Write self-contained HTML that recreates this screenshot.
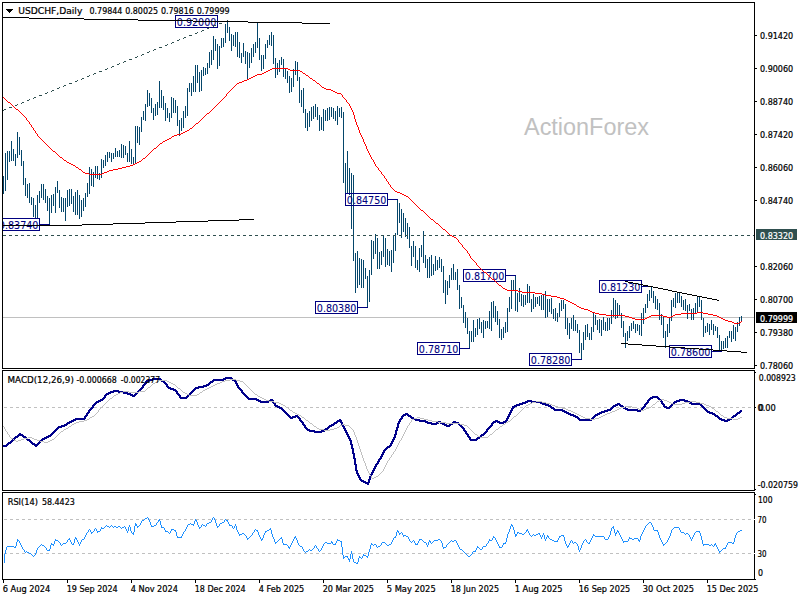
<!DOCTYPE html>
<html><head><meta charset="utf-8"><title>USDCHF Daily</title>
<style>html,body{margin:0;padding:0;background:#fff}svg{display:block}text{font-family:"DejaVu Sans Condensed","DejaVu Sans","Liberation Sans",sans-serif;font-size:9.5px;stroke-width:.22px}</style></head>
<body>
<svg width="800" height="600" viewBox="0 0 800 600">
<rect width="800" height="600" fill="#fff"/>
<defs><clipPath id="cm"><rect x="3" y="3" width="751" height="365"/></clipPath></defs>
<g shape-rendering="crispEdges" fill="none">
<path d="M3 317.5H754" stroke="#c0c0c0"/>
<path d="M3 176h1V194h-1zM5 153h1V191h-1zM7 151h1V180h-1zM9 151h1V162h-1zM11 141h1V161h-1zM13 149h1V161h-1zM15 154h1V166h-1zM17 132h1V158h-1zM19 137h1V155h-1zM21 150h1V166h-1zM23 161h1V185h-1zM25 178h1V196h-1zM27 184h1V198h-1zM29 183h1V203h-1zM31 197h1V205h-1zM33 198h1V217h-1zM35 205h1V218h-1zM37 195h1V218h-1zM39 191h1V203h-1zM41 184h1V198h-1zM43 184h1V200h-1zM45 189h1V203h-1zM47 196h1V211h-1zM49 198h1V224h-1zM51 195h1V213h-1zM53 194h1V206h-1zM55 187h1V213h-1zM57 181h1V193h-1zM59 190h1V208h-1zM61 197h1V212h-1zM63 198h1V212h-1zM65 198h1V221h-1zM67 190h1V207h-1zM69 189h1V206h-1zM71 189h1V204h-1zM73 196h1V212h-1zM75 192h1V215h-1zM77 190h1V215h-1zM79 195h1V219h-1zM81 200h1V217h-1zM83 198h1V211h-1zM85 193h1V207h-1zM87 183h1V197h-1zM89 167h1V194h-1zM91 169h1V186h-1zM93 172h1V187h-1zM95 166h1V178h-1zM97 166h1V179h-1zM99 173h1V180h-1zM101 159h1V178h-1zM103 160h1V168h-1zM105 155h1V166h-1zM107 152h1V162h-1zM109 152h1V158h-1zM111 153h1V162h-1zM113 153h1V159h-1zM115 148h1V157h-1zM117 151h1V157h-1zM119 150h1V157h-1zM121 144h1V158h-1zM123 145h1V158h-1zM125 146h1V155h-1zM127 153h1V162h-1zM129 141h1V162h-1zM131 149h1V164h-1zM133 157h1V165h-1zM135 126h1V164h-1zM137 126h1V143h-1zM139 127h1V145h-1zM141 117h1V132h-1zM143 111h1V120h-1zM145 104h1V121h-1zM147 90h1V107h-1zM149 93h1V106h-1zM151 98h1V113h-1zM153 108h1V120h-1zM155 104h1V116h-1zM157 102h1V115h-1zM159 81h1V108h-1zM161 90h1V108h-1zM163 96h1V110h-1zM165 103h1V121h-1zM167 108h1V118h-1zM169 113h1V122h-1zM171 97h1V118h-1zM173 98h1V113h-1zM175 100h1V113h-1zM177 106h1V126h-1zM179 120h1V136h-1zM181 118h1V131h-1zM183 111h1V128h-1zM185 106h1V118h-1zM187 88h1V116h-1zM189 83h1V92h-1zM191 83h1V96h-1zM193 76h1V92h-1zM195 65h1V92h-1zM197 65h1V83h-1zM199 72h1V92h-1zM201 70h1V91h-1zM203 67h1V76h-1zM205 68h1V75h-1zM207 63h1V74h-1zM209 52h1V68h-1zM211 50h1V65h-1zM213 36h1V60h-1zM215 39h1V51h-1zM217 44h1V69h-1zM219 46h1V66h-1zM221 38h1V48h-1zM223 38h1V47h-1zM225 24h1V43h-1zM227 20h1V33h-1zM229 27h1V41h-1zM231 34h1V51h-1zM233 35h1V46h-1zM235 32h1V47h-1zM237 32h1V57h-1zM239 42h1V58h-1zM241 53h1V63h-1zM243 43h1V57h-1zM245 51h1V64h-1zM247 52h1V80h-1zM249 53h1V68h-1zM251 48h1V63h-1zM253 44h1V57h-1zM255 42h1V53h-1zM257 22h1V48h-1zM259 38h1V60h-1zM261 55h1V71h-1zM263 55h1V69h-1zM265 44h1V59h-1zM267 40h1V48h-1zM269 35h1V45h-1zM271 32h1V46h-1zM273 35h1V64h-1zM275 58h1V78h-1zM277 63h1V75h-1zM279 60h1V72h-1zM281 57h1V65h-1zM283 59h1V77h-1zM285 68h1V79h-1zM287 71h1V83h-1zM289 76h1V93h-1zM291 78h1V92h-1zM293 69h1V87h-1zM295 61h1V75h-1zM297 62h1V81h-1zM299 77h1V103h-1zM301 90h1V107h-1zM303 88h1V113h-1zM305 109h1V128h-1zM307 113h1V131h-1zM309 111h1V127h-1zM311 107h1V121h-1zM313 106h1V119h-1zM315 104h1V117h-1zM317 107h1V120h-1zM319 115h1V131h-1zM321 117h1V130h-1zM323 109h1V131h-1zM325 110h1V121h-1zM327 108h1V121h-1zM329 107h1V120h-1zM331 107h1V117h-1zM333 108h1V119h-1zM335 111h1V121h-1zM337 106h1V125h-1zM339 108h1V117h-1zM341 107h1V118h-1zM343 112h1V183h-1zM345 163h1V194h-1zM347 151h1V194h-1zM349 168h1V195h-1zM351 173h1V229h-1zM353 175h1V261h-1zM355 253h1V293h-1zM357 251h1V288h-1zM359 258h1V285h-1zM361 259h1V288h-1zM363 260h1V288h-1zM365 268h1V279h-1zM367 276h1V308h-1zM369 270h1V302h-1zM371 240h1V275h-1zM373 241h1V259h-1zM375 234h1V254h-1zM377 238h1V269h-1zM379 252h1V269h-1zM381 251h1V265h-1zM383 235h1V257h-1zM385 238h1V267h-1zM387 249h1V265h-1zM389 251h1V266h-1zM391 250h1V272h-1zM393 236h1V263h-1zM395 233h1V251h-1zM397 199h1V235h-1zM399 203h1V223h-1zM401 209h1V238h-1zM403 213h1V232h-1zM405 218h1V237h-1zM407 223h1V239h-1zM409 227h1V248h-1zM411 246h1V266h-1zM413 241h1V257h-1zM415 246h1V268h-1zM417 260h1V270h-1zM419 248h1V272h-1zM421 245h1V257h-1zM423 231h1V263h-1zM425 255h1V268h-1zM427 259h1V278h-1zM429 257h1V278h-1zM431 255h1V276h-1zM433 264h1V275h-1zM435 256h1V271h-1zM437 260h1V270h-1zM439 257h1V268h-1zM441 259h1V272h-1zM443 266h1V293h-1zM445 280h1V304h-1zM447 281h1V295h-1zM449 275h1V288h-1zM451 268h1V280h-1zM453 264h1V280h-1zM455 272h1V280h-1zM457 269h1V290h-1zM459 285h1V309h-1zM461 297h1V308h-1zM463 305h1V323h-1zM465 312h1V328h-1zM467 318h1V334h-1zM469 331h1V348h-1zM471 331h1V342h-1zM473 320h1V342h-1zM475 328h1V337h-1zM477 319h1V335h-1zM479 318h1V329h-1zM481 322h1V333h-1zM483 320h1V338h-1zM485 321h1V329h-1zM487 321h1V328h-1zM489 311h1V329h-1zM491 302h1V331h-1zM493 301h1V318h-1zM495 306h1V322h-1zM497 311h1V325h-1zM499 319h1V338h-1zM501 329h1V340h-1zM503 327h1V338h-1zM505 322h1V333h-1zM507 308h1V332h-1zM509 297h1V312h-1zM511 280h1V309h-1zM513 280h1V291h-1zM515 275h1V311h-1zM517 293h1V312h-1zM519 288h1V302h-1zM521 294h1V306h-1zM523 295h1V307h-1zM525 295h1V305h-1zM527 284h1V303h-1zM529 286h1V303h-1zM531 299h1V312h-1zM533 294h1V309h-1zM535 297h1V307h-1zM537 297h1V304h-1zM539 296h1V306h-1zM541 295h1V310h-1zM543 294h1V310h-1zM545 291h1V318h-1zM547 299h1V317h-1zM549 299h1V312h-1zM551 298h1V314h-1zM553 309h1V319h-1zM555 308h1V321h-1zM557 313h1V322h-1zM559 303h1V317h-1zM561 300h1V311h-1zM563 300h1V309h-1zM565 304h1V329h-1zM567 318h1V335h-1zM569 323h1V339h-1zM571 318h1V329h-1zM573 315h1V331h-1zM575 320h1V331h-1zM577 324h1V333h-1zM579 330h1V353h-1zM581 343h1V359h-1zM583 332h1V350h-1zM585 325h1V340h-1zM587 324h1V337h-1zM589 333h1V340h-1zM591 327h1V340h-1zM593 313h1V332h-1zM595 315h1V325h-1zM597 320h1V330h-1zM599 319h1V333h-1zM601 320h1V336h-1zM603 317h1V330h-1zM605 322h1V331h-1zM607 318h1V331h-1zM609 318h1V330h-1zM611 310h1V324h-1zM613 298h1V317h-1zM615 300h1V319h-1zM617 303h1V318h-1zM619 305h1V315h-1zM621 313h1V328h-1zM623 321h1V337h-1zM625 333h1V348h-1zM627 331h1V341h-1zM629 326h1V338h-1zM631 323h1V331h-1zM633 321h1V329h-1zM635 324h1V333h-1zM637 324h1V331h-1zM639 325h1V335h-1zM641 313h1V336h-1zM643 308h1V324h-1zM645 304h1V313h-1zM647 294h1V308h-1zM649 290h1V301h-1zM651 286h1V298h-1zM653 291h1V303h-1zM655 296h1V309h-1zM657 299h1V310h-1zM659 303h1V320h-1zM661 314h1V325h-1zM663 317h1V338h-1zM665 331h1V348h-1zM667 324h1V337h-1zM669 318h1V333h-1zM671 300h1V321h-1zM673 298h1V307h-1zM675 293h1V308h-1zM677 293h1V303h-1zM679 293h1V303h-1zM681 296h1V307h-1zM683 300h1V310h-1zM685 299h1V311h-1zM687 305h1V319h-1zM689 304h1V311h-1zM691 309h1V320h-1zM693 308h1V320h-1zM695 303h1V313h-1zM697 296h1V312h-1zM699 296h1V307h-1zM701 300h1V320h-1zM703 318h1V337h-1zM705 326h1V333h-1zM707 323h1V332h-1zM709 324h1V335h-1zM711 320h1V330h-1zM713 324h1V335h-1zM715 326h1V331h-1zM717 327h1V338h-1zM719 335h1V350h-1zM721 341h1V351h-1zM723 341h1V349h-1zM725 338h1V348h-1zM727 336h1V348h-1zM729 331h1V338h-1zM731 331h1V342h-1zM733 325h1V339h-1zM735 327h1V341h-1zM737 322h1V332h-1zM739 317h1V326h-1zM741 316h1V322h-1z" fill="#05466b" stroke="none"/>
<path d="M3 235.5H754" stroke="#2f4f4f" stroke-dasharray="3 3"/>
<g clip-path="url(#cm)">
<rect x="175.5" y="15.5" width="42" height="12" stroke="#000080"/>
<rect x="-2.5" y="218.5" width="42" height="12" stroke="#000080"/>
<path d="M39.5 224.5H49.5" stroke="#000080"/>
<rect x="345.5" y="193.5" width="42" height="12" stroke="#000080"/>
<path d="M387.5 199.5H397.5" stroke="#000080"/>
<rect x="315.5" y="301.5" width="42" height="12" stroke="#000080"/>
<path d="M357.5 307.5H367.5" stroke="#000080"/>
<rect x="463.5" y="269.5" width="42" height="12" stroke="#000080"/>
<path d="M505.5 275.5H515.5" stroke="#000080"/>
<rect x="417.5" y="342.5" width="42" height="12" stroke="#000080"/>
<path d="M459.5 348.5H469.5" stroke="#000080"/>
<rect x="529.5" y="353.5" width="42" height="12" stroke="#000080"/>
<path d="M571.5 359.5H581.5" stroke="#000080"/>
<rect x="599.5" y="280.5" width="42" height="12" stroke="#000080"/>
<path d="M641.5 286.5H651.5" stroke="#000080"/>
<rect x="669.5" y="345.5" width="42" height="12" stroke="#000080"/>
<path d="M711.5 351.5H721.5" stroke="#000080"/>
<text x="176.8" y="26.0" textLength="39.6" lengthAdjust="spacingAndGlyphs" fill="#000080" stroke="#000080" shape-rendering="auto" style="font-size:11px;stroke-width:.08px">0.92000</text>
<text x="-1.2" y="229.0" textLength="39.6" lengthAdjust="spacingAndGlyphs" fill="#000080" stroke="#000080" shape-rendering="auto" style="font-size:11px;stroke-width:.08px">0.83740</text>
<text x="346.8" y="204.0" textLength="39.6" lengthAdjust="spacingAndGlyphs" fill="#000080" stroke="#000080" shape-rendering="auto" style="font-size:11px;stroke-width:.08px">0.84750</text>
<text x="316.8" y="312.0" textLength="39.6" lengthAdjust="spacingAndGlyphs" fill="#000080" stroke="#000080" shape-rendering="auto" style="font-size:11px;stroke-width:.08px">0.80380</text>
<text x="464.8" y="280.0" textLength="39.6" lengthAdjust="spacingAndGlyphs" fill="#000080" stroke="#000080" shape-rendering="auto" style="font-size:11px;stroke-width:.08px">0.81700</text>
<text x="418.8" y="353.0" textLength="39.6" lengthAdjust="spacingAndGlyphs" fill="#000080" stroke="#000080" shape-rendering="auto" style="font-size:11px;stroke-width:.08px">0.78710</text>
<text x="530.8" y="364.0" textLength="39.6" lengthAdjust="spacingAndGlyphs" fill="#000080" stroke="#000080" shape-rendering="auto" style="font-size:11px;stroke-width:.08px">0.78280</text>
<text x="600.8" y="291.0" textLength="39.6" lengthAdjust="spacingAndGlyphs" fill="#000080" stroke="#000080" shape-rendering="auto" style="font-size:11px;stroke-width:.08px">0.81230</text>
<text x="670.8" y="356.0" textLength="39.6" lengthAdjust="spacingAndGlyphs" fill="#000080" stroke="#000080" shape-rendering="auto" style="font-size:11px;stroke-width:.08px">0.78600</text>
</g>
<path d="M227 20h1v1h-1zM225 21h2v1h-2zM219 23h3v1h-3zM214 25h2v1h-2zM213 26h1v1h-1zM209 27h1v1h-1zM207 28h2v1h-2zM202 30h2v1h-2zM201 31h1v1h-1zM197 32h1v1h-1zM195 33h2v1h-2zM189 35h3v1h-3zM184 37h2v1h-2zM183 38h1v1h-1zM179 39h1v1h-1zM177 40h2v1h-2zM172 42h2v1h-2zM171 43h1v1h-1zM167 44h1v1h-1zM165 45h2v1h-2zM159 47h3v1h-3zM154 49h2v1h-2zM153 50h1v1h-1zM149 51h1v1h-1zM147 52h2v1h-2zM142 54h2v1h-2zM141 55h1v1h-1zM137 56h1v1h-1zM135 57h2v1h-2zM129 59h3v1h-3zM124 61h2v1h-2zM123 62h1v1h-1zM119 63h1v1h-1zM117 64h2v1h-2zM112 66h2v1h-2zM111 67h1v1h-1zM107 68h1v1h-1zM105 69h2v1h-2zM99 71h3v1h-3zM94 73h2v1h-2zM93 74h1v1h-1zM89 75h1v1h-1zM87 76h2v1h-2zM82 78h2v1h-2zM81 79h1v1h-1zM77 80h1v1h-1zM75 81h2v1h-2zM69 83h3v1h-3zM64 85h2v1h-2zM63 86h1v1h-1zM59 87h1v1h-1zM57 88h2v1h-2zM52 90h2v1h-2zM51 91h1v1h-1zM47 92h1v1h-1zM45 93h2v1h-2zM39 95h3v1h-3zM34 97h2v1h-2zM33 98h1v1h-1zM29 99h1v1h-1zM27 100h2v1h-2zM22 102h2v1h-2zM21 103h1v1h-1zM17 104h1v1h-1zM15 105h2v1h-2zM9 107h3v1h-3zM4 109h2v1h-2zM3 110h1v1h-1z" fill="#2f4f4f" stroke="none"/>
<path d="M272 68h16v1h-16zM270 69h2v1h-2zM288 69h2v1h-2zM268 70h2v1h-2zM290 70h10v1h-10zM266 71h2v1h-2zM300 71h2v1h-2zM264 72h2v1h-2zM302 72h1v1h-1zM262 73h2v1h-2zM303 73h2v1h-2zM257 74h5v1h-5zM305 74h1v1h-1zM255 75h2v1h-2zM306 75h2v1h-2zM253 76h2v1h-2zM308 76h1v1h-1zM251 77h2v1h-2zM309 77h1v1h-1zM249 78h2v1h-2zM310 78h2v1h-2zM247 79h2v1h-2zM312 79h1v1h-1zM244 80h3v1h-3zM313 80h2v1h-2zM242 81h2v1h-2zM315 81h1v1h-1zM239 82h3v1h-3zM316 82h1v1h-1zM237 83h2v1h-2zM317 83h2v1h-2zM236 84h1v1h-1zM319 84h1v1h-1zM235 85h1v1h-1zM320 85h1v1h-1zM234 86h1v1h-1zM321 86h1v1h-1zM233 87h1v1h-1zM322 87h2v1h-2zM232 88h1v1h-1zM324 88h2v1h-2zM231 89h1v1h-1zM326 89h5v1h-5zM230 90h1v1h-1zM331 90h2v1h-2zM229 91h1v1h-1zM333 91h2v1h-2zM228 92h1v1h-1zM335 92h2v1h-2zM227 93h1v1h-1zM337 93h4v1h-4zM226 94h1v1h-1zM341 94h1v1h-1zM226 95h1v1h-1zM342 95h1v1h-1zM225 96h1v1h-1zM342 96h1v1h-1zM3 97h1v1h-1zM224 97h1v1h-1zM343 97h1v1h-1zM4 98h1v1h-1zM223 98h1v1h-1zM344 98h1v1h-1zM5 99h1v1h-1zM222 99h1v1h-1zM345 99h1v1h-1zM6 100h1v1h-1zM221 100h1v1h-1zM346 100h1v1h-1zM7 101h1v1h-1zM220 101h1v1h-1zM346 101h1v1h-1zM8 102h2v1h-2zM219 102h1v1h-1zM347 102h1v1h-1zM10 103h1v1h-1zM218 103h1v1h-1zM348 103h1v1h-1zM11 104h1v1h-1zM217 104h1v1h-1zM349 104h1v1h-1zM12 105h1v1h-1zM216 105h1v1h-1zM349 105h1v1h-1zM13 106h1v1h-1zM215 106h1v1h-1zM350 106h1v1h-1zM14 107h1v1h-1zM214 107h1v1h-1zM350 107h1v1h-1zM15 108h1v1h-1zM213 108h1v1h-1zM351 108h1v1h-1zM16 109h2v1h-2zM212 109h1v1h-1zM351 109h1v1h-1zM18 110h1v1h-1zM211 110h1v1h-1zM352 110h1v1h-1zM19 111h1v1h-1zM210 111h1v1h-1zM352 111h1v1h-1zM20 112h1v1h-1zM209 112h1v1h-1zM353 112h1v1h-1zM21 113h1v1h-1zM207 113h2v1h-2zM353 113h1v1h-1zM22 114h1v1h-1zM206 114h1v1h-1zM353 114h1v1h-1zM23 115h1v1h-1zM205 115h1v1h-1zM354 115h1v1h-1zM24 116h1v1h-1zM204 116h1v1h-1zM354 116h1v1h-1zM25 117h1v1h-1zM203 117h1v1h-1zM354 117h1v1h-1zM26 118h1v1h-1zM202 118h1v1h-1zM354 118h1v1h-1zM26 119h1v1h-1zM201 119h1v1h-1zM355 119h1v1h-1zM27 120h1v1h-1zM200 120h1v1h-1zM355 120h1v1h-1zM28 121h1v1h-1zM199 121h1v1h-1zM355 121h1v1h-1zM29 122h1v1h-1zM198 122h1v1h-1zM356 122h1v1h-1zM29 123h1v1h-1zM196 123h2v1h-2zM356 123h1v1h-1zM30 124h1v1h-1zM195 124h1v1h-1zM356 124h1v1h-1zM31 125h1v1h-1zM194 125h1v1h-1zM357 125h1v1h-1zM31 126h1v1h-1zM193 126h1v1h-1zM357 126h1v1h-1zM32 127h1v1h-1zM192 127h1v1h-1zM358 127h1v1h-1zM33 128h1v1h-1zM190 128h2v1h-2zM358 128h1v1h-1zM33 129h1v1h-1zM189 129h1v1h-1zM358 129h1v1h-1zM34 130h1v1h-1zM187 130h2v1h-2zM359 130h1v1h-1zM35 131h1v1h-1zM185 131h2v1h-2zM359 131h1v1h-1zM35 132h1v1h-1zM183 132h2v1h-2zM359 132h1v1h-1zM36 133h1v1h-1zM181 133h2v1h-2zM360 133h1v1h-1zM37 134h1v1h-1zM177 134h4v1h-4zM360 134h1v1h-1zM37 135h1v1h-1zM174 135h3v1h-3zM361 135h1v1h-1zM38 136h1v1h-1zM172 136h2v1h-2zM361 136h1v1h-1zM39 137h1v1h-1zM171 137h1v1h-1zM362 137h1v1h-1zM40 138h1v1h-1zM169 138h2v1h-2zM362 138h1v1h-1zM41 139h1v1h-1zM167 139h2v1h-2zM363 139h1v1h-1zM42 140h1v1h-1zM165 140h2v1h-2zM363 140h1v1h-1zM43 141h1v1h-1zM163 141h2v1h-2zM363 141h1v1h-1zM44 142h1v1h-1zM162 142h1v1h-1zM364 142h1v1h-1zM45 143h1v1h-1zM160 143h2v1h-2zM364 143h1v1h-1zM46 144h1v1h-1zM159 144h1v1h-1zM365 144h1v1h-1zM47 145h1v1h-1zM158 145h1v1h-1zM365 145h1v1h-1zM48 146h1v1h-1zM157 146h1v1h-1zM366 146h1v1h-1zM49 147h1v1h-1zM156 147h1v1h-1zM366 147h1v1h-1zM50 148h1v1h-1zM154 148h2v1h-2zM366 148h1v1h-1zM51 149h1v1h-1zM153 149h1v1h-1zM367 149h1v1h-1zM52 150h1v1h-1zM152 150h1v1h-1zM367 150h1v1h-1zM53 151h2v1h-2zM151 151h1v1h-1zM368 151h1v1h-1zM55 152h1v1h-1zM150 152h1v1h-1zM368 152h1v1h-1zM56 153h1v1h-1zM149 153h1v1h-1zM369 153h1v1h-1zM57 154h1v1h-1zM148 154h1v1h-1zM369 154h1v1h-1zM58 155h1v1h-1zM147 155h1v1h-1zM370 155h1v1h-1zM59 156h1v1h-1zM146 156h1v1h-1zM370 156h1v1h-1zM60 157h2v1h-2zM145 157h1v1h-1zM371 157h1v1h-1zM62 158h1v1h-1zM143 158h2v1h-2zM371 158h1v1h-1zM63 159h1v1h-1zM142 159h1v1h-1zM372 159h1v1h-1zM64 160h2v1h-2zM141 160h1v1h-1zM373 160h1v1h-1zM66 161h1v1h-1zM139 161h2v1h-2zM373 161h1v1h-1zM67 162h2v1h-2zM137 162h2v1h-2zM374 162h1v1h-1zM69 163h2v1h-2zM135 163h2v1h-2zM374 163h1v1h-1zM71 164h2v1h-2zM133 164h2v1h-2zM375 164h1v1h-1zM73 165h2v1h-2zM130 165h3v1h-3zM375 165h1v1h-1zM75 166h1v1h-1zM126 166h4v1h-4zM376 166h1v1h-1zM76 167h2v1h-2zM122 167h4v1h-4zM377 167h1v1h-1zM78 168h1v1h-1zM118 168h4v1h-4zM378 168h1v1h-1zM79 169h2v1h-2zM113 169h5v1h-5zM378 169h1v1h-1zM81 170h1v1h-1zM109 170h4v1h-4zM379 170h1v1h-1zM82 171h1v1h-1zM107 171h2v1h-2zM380 171h1v1h-1zM83 172h2v1h-2zM104 172h3v1h-3zM381 172h1v1h-1zM85 173h4v1h-4zM102 173h2v1h-2zM381 173h1v1h-1zM89 174h13v1h-13zM382 174h1v1h-1zM383 175h1v1h-1zM384 176h1v1h-1zM384 177h1v1h-1zM385 178h1v1h-1zM386 179h1v1h-1zM386 180h1v1h-1zM387 181h1v1h-1zM388 182h1v1h-1zM388 183h1v1h-1zM389 184h1v1h-1zM390 185h1v1h-1zM390 186h1v1h-1zM391 187h1v1h-1zM392 188h1v1h-1zM393 189h1v1h-1zM394 190h1v1h-1zM395 191h2v1h-2zM397 192h3v1h-3zM400 193h2v1h-2zM402 194h2v1h-2zM404 195h2v1h-2zM406 196h2v1h-2zM408 197h1v1h-1zM409 198h1v1h-1zM410 199h1v1h-1zM411 200h1v1h-1zM412 201h1v1h-1zM413 202h1v1h-1zM414 203h1v1h-1zM415 204h1v1h-1zM416 205h1v1h-1zM417 206h1v1h-1zM418 207h1v1h-1zM419 208h1v1h-1zM420 209h1v1h-1zM421 210h2v1h-2zM423 211h1v1h-1zM424 212h1v1h-1zM425 213h1v1h-1zM426 214h1v1h-1zM427 215h1v1h-1zM428 216h1v1h-1zM429 217h1v1h-1zM430 218h1v1h-1zM431 219h2v1h-2zM433 220h1v1h-1zM434 221h1v1h-1zM435 222h1v1h-1zM436 223h2v1h-2zM438 224h1v1h-1zM439 225h1v1h-1zM440 226h1v1h-1zM441 227h1v1h-1zM442 228h1v1h-1zM443 229h2v1h-2zM445 230h1v1h-1zM446 231h1v1h-1zM447 232h1v1h-1zM448 233h1v1h-1zM449 234h1v1h-1zM450 235h2v1h-2zM452 236h2v1h-2zM454 237h2v1h-2zM456 238h1v1h-1zM457 239h1v1h-1zM458 240h1v1h-1zM458 241h1v1h-1zM459 242h1v1h-1zM460 243h1v1h-1zM461 244h1v1h-1zM462 245h1v1h-1zM462 246h1v1h-1zM463 247h1v1h-1zM464 248h1v1h-1zM465 249h1v1h-1zM466 250h1v1h-1zM467 251h1v1h-1zM467 252h1v1h-1zM468 253h1v1h-1zM469 254h1v1h-1zM469 255h1v1h-1zM470 256h1v1h-1zM470 257h1v1h-1zM471 258h1v1h-1zM472 259h1v1h-1zM473 260h1v1h-1zM474 261h1v1h-1zM475 262h1v1h-1zM476 263h1v1h-1zM476 264h1v1h-1zM477 265h1v1h-1zM478 266h1v1h-1zM479 267h1v1h-1zM480 268h1v1h-1zM481 269h1v1h-1zM482 270h1v1h-1zM483 271h1v1h-1zM484 272h2v1h-2zM486 273h1v1h-1zM487 274h1v1h-1zM488 275h1v1h-1zM489 276h1v1h-1zM490 277h1v1h-1zM491 278h1v1h-1zM492 279h2v1h-2zM494 280h1v1h-1zM495 281h1v1h-1zM496 282h1v1h-1zM497 283h1v1h-1zM498 284h1v1h-1zM499 285h2v1h-2zM501 286h1v1h-1zM502 287h1v1h-1zM503 288h2v1h-2zM505 289h2v1h-2zM507 290h11v1h-11zM518 291h4v1h-4zM522 292h13v1h-13zM535 293h7v1h-7zM542 294h3v1h-3zM545 295h6v1h-6zM551 296h6v1h-6zM557 297h3v1h-3zM560 298h4v1h-4zM564 299h2v1h-2zM566 300h2v1h-2zM568 301h2v1h-2zM570 302h2v1h-2zM572 303h2v1h-2zM574 304h2v1h-2zM576 305h1v1h-1zM577 306h2v1h-2zM579 307h2v1h-2zM581 308h3v1h-3zM584 309h4v1h-4zM588 310h2v1h-2zM590 311h2v1h-2zM592 312h3v1h-3zM697 312h6v1h-6zM595 313h4v1h-4zM681 313h16v1h-16zM703 313h5v1h-5zM599 314h7v1h-7zM675 314h6v1h-6zM708 314h5v1h-5zM606 315h19v1h-19zM651 315h12v1h-12zM673 315h2v1h-2zM713 315h4v1h-4zM625 316h4v1h-4zM649 316h2v1h-2zM663 316h4v1h-4zM671 316h2v1h-2zM717 316h2v1h-2zM629 317h3v1h-3zM647 317h2v1h-2zM667 317h4v1h-4zM719 317h2v1h-2zM632 318h3v1h-3zM645 318h2v1h-2zM721 318h2v1h-2zM635 319h10v1h-10zM723 319h2v1h-2zM725 320h3v1h-3zM728 321h4v1h-4zM741 321h1v1h-1zM732 322h2v1h-2zM739 322h2v1h-2zM734 323h5v1h-5z" fill="#ff0000" stroke="none"/>
<path d="M3 17h26v1h-26zM29 18h55v1h-55zM84 19h54v1h-54zM138 20h55v1h-55zM193 21h55v1h-55zM248 22h54v1h-54zM302 23h28v1h-28zM239 219h15v1h-15zM208 220h31v1h-31zM176 221h32v1h-32zM145 222h31v1h-31zM113 223h32v1h-32zM82 224h31v1h-31zM3 225h79v1h-79zM625 281h3v1h-3zM628 282h5v1h-5zM633 283h5v1h-5zM638 284h5v1h-5zM643 285h5v1h-5zM648 286h5v1h-5zM653 287h5v1h-5zM658 288h5v1h-5zM663 289h5v1h-5zM668 290h4v1h-4zM672 291h5v1h-5zM677 292h5v1h-5zM682 293h5v1h-5zM687 294h5v1h-5zM692 295h5v1h-5zM697 296h5v1h-5zM702 297h5v1h-5zM707 298h5v1h-5zM712 299h5v1h-5zM717 300h2v1h-2zM621 343h7v1h-7zM628 344h14v1h-14zM642 345h14v1h-14zM656 346h14v1h-14zM670 347h15v1h-15zM685 348h14v1h-14zM699 349h14v1h-14zM713 350h14v1h-14zM727 351h14v1h-14zM741 352h6v1h-6z" fill="#000" stroke="none"/>
<path d="M3 407.5H754" stroke="#c0c0c0" stroke-dasharray="3 3" stroke-dashoffset="5"/>
<path d="M225 377h7v1h-7zM152 378h9v1h-9zM223 378h10v1h-10zM148 379h14v1h-14zM213 379h13v1h-13zM231 379h4v1h-4zM146 380h7v1h-7zM160 380h4v1h-4zM212 380h12v1h-12zM232 380h4v1h-4zM145 381h4v1h-4zM161 381h4v1h-4zM210 381h4v1h-4zM234 381h3v1h-3zM145 382h2v1h-2zM163 382h3v1h-3zM209 382h4v1h-4zM235 382h2v1h-2zM144 383h3v1h-3zM164 383h3v1h-3zM208 383h3v1h-3zM235 383h3v1h-3zM143 384h3v1h-3zM165 384h3v1h-3zM206 384h4v1h-4zM236 384h2v1h-2zM142 385h3v1h-3zM166 385h2v1h-2zM203 385h6v1h-6zM236 385h3v1h-3zM142 386h2v1h-2zM166 386h3v1h-3zM198 386h9v1h-9zM237 386h2v1h-2zM141 387h3v1h-3zM167 387h4v1h-4zM195 387h9v1h-9zM237 387h3v1h-3zM140 388h3v1h-3zM168 388h6v1h-6zM194 388h5v1h-5zM238 388h3v1h-3zM139 389h3v1h-3zM170 389h6v1h-6zM193 389h3v1h-3zM239 389h3v1h-3zM113 390h6v1h-6zM138 390h3v1h-3zM173 390h4v1h-4zM192 390h3v1h-3zM240 390h3v1h-3zM110 391h14v1h-14zM137 391h3v1h-3zM175 391h3v1h-3zM191 391h3v1h-3zM241 391h2v1h-2zM108 392h6v1h-6zM118 392h10v1h-10zM136 392h3v1h-3zM176 392h2v1h-2zM190 392h3v1h-3zM241 392h3v1h-3zM106 393h5v1h-5zM123 393h8v1h-8zM135 393h3v1h-3zM176 393h3v1h-3zM189 393h3v1h-3zM242 393h3v1h-3zM105 394h4v1h-4zM127 394h6v1h-6zM134 394h3v1h-3zM177 394h3v1h-3zM188 394h3v1h-3zM243 394h3v1h-3zM104 395h3v1h-3zM130 395h6v1h-6zM178 395h3v1h-3zM187 395h3v1h-3zM244 395h3v1h-3zM104 396h2v1h-2zM132 396h3v1h-3zM179 396h2v1h-2zM186 396h3v1h-3zM245 396h3v1h-3zM652 396h6v1h-6zM103 397h3v1h-3zM179 397h9v1h-9zM246 397h3v1h-3zM650 397h9v1h-9zM102 398h3v1h-3zM180 398h7v1h-7zM247 398h10v1h-10zM649 398h4v1h-4zM657 398h3v1h-3zM100 399h4v1h-4zM248 399h11v1h-11zM270 399h3v1h-3zM648 399h3v1h-3zM658 399h3v1h-3zM679 399h6v1h-6zM98 400h5v1h-5zM256 400h5v1h-5zM268 400h6v1h-6zM527 400h5v1h-5zM647 400h3v1h-3zM659 400h3v1h-3zM676 400h12v1h-12zM96 401h5v1h-5zM258 401h13v1h-13zM272 401h2v1h-2zM525 401h16v1h-16zM647 401h2v1h-2zM660 401h3v1h-3zM674 401h6v1h-6zM684 401h6v1h-6zM95 402h4v1h-4zM260 402h9v1h-9zM272 402h3v1h-3zM522 402h6v1h-6zM531 402h12v1h-12zM646 402h3v1h-3zM661 402h2v1h-2zM673 402h4v1h-4zM687 402h5v1h-5zM94 403h3v1h-3zM273 403h3v1h-3zM519 403h7v1h-7zM540 403h6v1h-6zM617 403h3v1h-3zM645 403h3v1h-3zM661 403h3v1h-3zM672 403h3v1h-3zM689 403h12v1h-12zM93 404h3v1h-3zM274 404h2v1h-2zM516 404h7v1h-7zM542 404h7v1h-7zM615 404h6v1h-6zM644 404h3v1h-3zM662 404h3v1h-3zM671 404h3v1h-3zM691 404h11v1h-11zM92 405h3v1h-3zM274 405h4v1h-4zM514 405h6v1h-6zM545 405h6v1h-6zM613 405h5v1h-5zM619 405h4v1h-4zM644 405h2v1h-2zM663 405h2v1h-2zM670 405h3v1h-3zM700 405h3v1h-3zM92 406h2v1h-2zM275 406h5v1h-5zM512 406h5v1h-5zM548 406h4v1h-4zM612 406h4v1h-4zM620 406h4v1h-4zM643 406h3v1h-3zM663 406h4v1h-4zM669 406h3v1h-3zM701 406h3v1h-3zM91 407h3v1h-3zM277 407h5v1h-5zM512 407h3v1h-3zM550 407h4v1h-4zM611 407h3v1h-3zM622 407h4v1h-4zM642 407h3v1h-3zM664 407h7v1h-7zM702 407h3v1h-3zM90 408h3v1h-3zM279 408h4v1h-4zM511 408h3v1h-3zM551 408h4v1h-4zM610 408h3v1h-3zM623 408h5v1h-5zM641 408h3v1h-3zM666 408h4v1h-4zM703 408h3v1h-3zM89 409h3v1h-3zM281 409h3v1h-3zM511 409h2v1h-2zM553 409h10v1h-10zM607 409h5v1h-5zM625 409h13v1h-13zM640 409h3v1h-3zM704 409h3v1h-3zM88 410h3v1h-3zM282 410h3v1h-3zM510 410h3v1h-3zM554 410h11v1h-11zM604 410h7v1h-7zM627 410h15v1h-15zM705 410h3v1h-3zM740 410h2v1h-2zM88 411h2v1h-2zM283 411h3v1h-3zM510 411h2v1h-2zM562 411h5v1h-5zM601 411h7v1h-7zM637 411h4v1h-4zM706 411h4v1h-4zM739 411h3v1h-3zM87 412h3v1h-3zM284 412h3v1h-3zM509 412h3v1h-3zM564 412h5v1h-5zM599 412h6v1h-6zM707 412h6v1h-6zM737 412h4v1h-4zM86 413h3v1h-3zM285 413h3v1h-3zM405 413h3v1h-3zM509 413h2v1h-2zM566 413h5v1h-5zM597 413h5v1h-5zM709 413h6v1h-6zM736 413h4v1h-4zM86 414h2v1h-2zM286 414h3v1h-3zM403 414h6v1h-6zM508 414h3v1h-3zM568 414h6v1h-6zM595 414h5v1h-5zM712 414h4v1h-4zM735 414h3v1h-3zM85 415h3v1h-3zM287 415h3v1h-3zM295 415h3v1h-3zM402 415h4v1h-4zM407 415h4v1h-4zM508 415h2v1h-2zM570 415h6v1h-6zM594 415h4v1h-4zM714 415h4v1h-4zM733 415h4v1h-4zM84 416h3v1h-3zM288 416h3v1h-3zM292 416h7v1h-7zM401 416h3v1h-3zM408 416h4v1h-4zM507 416h3v1h-3zM573 416h5v1h-5zM593 416h3v1h-3zM715 416h4v1h-4zM732 416h4v1h-4zM84 417h2v1h-2zM289 417h7v1h-7zM297 417h3v1h-3zM401 417h2v1h-2zM410 417h4v1h-4zM507 417h2v1h-2zM575 417h4v1h-4zM592 417h3v1h-3zM717 417h3v1h-3zM731 417h3v1h-3zM75 418h11v1h-11zM290 418h3v1h-3zM298 418h3v1h-3zM400 418h3v1h-3zM411 418h5v1h-5zM506 418h3v1h-3zM577 418h3v1h-3zM591 418h3v1h-3zM718 418h4v1h-4zM729 418h4v1h-4zM73 419h12v1h-12zM299 419h2v1h-2zM339 419h2v1h-2zM399 419h3v1h-3zM413 419h7v1h-7zM506 419h2v1h-2zM578 419h15v1h-15zM719 419h6v1h-6zM727 419h5v1h-5zM71 420h5v1h-5zM299 420h3v1h-3zM337 420h5v1h-5zM399 420h2v1h-2zM415 420h11v1h-11zM495 420h3v1h-3zM505 420h3v1h-3zM579 420h13v1h-13zM721 420h9v1h-9zM69 421h5v1h-5zM300 421h3v1h-3zM336 421h6v1h-6zM398 421h3v1h-3zM419 421h9v1h-9zM438 421h3v1h-3zM453 421h3v1h-3zM493 421h7v1h-7zM503 421h4v1h-4zM724 421h4v1h-4zM67 422h5v1h-5zM301 422h3v1h-3zM334 422h4v1h-4zM340 422h3v1h-3zM398 422h2v1h-2zM425 422h7v1h-7zM436 422h7v1h-7zM452 422h7v1h-7zM492 422h4v1h-4zM497 422h10v1h-10zM66 423h4v1h-4zM302 423h2v1h-2zM333 423h4v1h-4zM341 423h2v1h-2zM397 423h3v1h-3zM427 423h12v1h-12zM440 423h5v1h-5zM450 423h4v1h-4zM455 423h5v1h-5zM491 423h3v1h-3zM499 423h5v1h-5zM64 424h4v1h-4zM302 424h3v1h-3zM331 424h4v1h-4zM341 424h3v1h-3zM397 424h2v1h-2zM431 424h6v1h-6zM442 424h5v1h-5zM449 424h4v1h-4zM458 424h3v1h-3zM491 424h2v1h-2zM61 425h6v1h-6zM303 425h3v1h-3zM329 425h5v1h-5zM342 425h2v1h-2zM397 425h2v1h-2zM444 425h7v1h-7zM459 425h3v1h-3zM490 425h3v1h-3zM58 426h7v1h-7zM304 426h2v1h-2zM328 426h4v1h-4zM342 426h3v1h-3zM397 426h2v1h-2zM446 426h4v1h-4zM460 426h3v1h-3zM489 426h3v1h-3zM57 427h5v1h-5zM304 427h3v1h-3zM327 427h3v1h-3zM343 427h2v1h-2zM396 427h3v1h-3zM461 427h3v1h-3zM488 427h3v1h-3zM56 428h3v1h-3zM305 428h3v1h-3zM325 428h4v1h-4zM343 428h3v1h-3zM396 428h2v1h-2zM462 428h3v1h-3zM487 428h3v1h-3zM55 429h3v1h-3zM306 429h4v1h-4zM324 429h4v1h-4zM344 429h2v1h-2zM396 429h2v1h-2zM463 429h2v1h-2zM486 429h3v1h-3zM54 430h3v1h-3zM307 430h8v1h-8zM321 430h5v1h-5zM344 430h3v1h-3zM395 430h3v1h-3zM463 430h3v1h-3zM486 430h2v1h-2zM53 431h3v1h-3zM309 431h16v1h-16zM345 431h2v1h-2zM395 431h2v1h-2zM464 431h3v1h-3zM485 431h3v1h-3zM52 432h3v1h-3zM314 432h8v1h-8zM345 432h3v1h-3zM395 432h2v1h-2zM465 432h2v1h-2zM484 432h3v1h-3zM19 433h2v1h-2zM51 433h3v1h-3zM346 433h2v1h-2zM395 433h2v1h-2zM465 433h3v1h-3zM483 433h3v1h-3zM18 434h5v1h-5zM50 434h3v1h-3zM346 434h3v1h-3zM394 434h3v1h-3zM466 434h3v1h-3zM481 434h4v1h-4zM17 435h7v1h-7zM48 435h4v1h-4zM347 435h2v1h-2zM394 435h2v1h-2zM467 435h2v1h-2zM480 435h4v1h-4zM15 436h4v1h-4zM22 436h4v1h-4zM46 436h5v1h-5zM347 436h3v1h-3zM394 436h2v1h-2zM467 436h3v1h-3zM479 436h3v1h-3zM14 437h4v1h-4zM23 437h4v1h-4zM44 437h5v1h-5zM348 437h2v1h-2zM393 437h3v1h-3zM468 437h3v1h-3zM477 437h4v1h-4zM13 438h3v1h-3zM25 438h3v1h-3zM42 438h5v1h-5zM348 438h3v1h-3zM393 438h2v1h-2zM469 438h2v1h-2zM476 438h4v1h-4zM12 439h3v1h-3zM26 439h4v1h-4zM41 439h4v1h-4zM349 439h2v1h-2zM392 439h3v1h-3zM469 439h9v1h-9zM11 440h3v1h-3zM27 440h4v1h-4zM40 440h3v1h-3zM349 440h3v1h-3zM392 440h2v1h-2zM470 440h7v1h-7zM10 441h3v1h-3zM29 441h3v1h-3zM39 441h3v1h-3zM350 441h2v1h-2zM391 441h3v1h-3zM8 442h4v1h-4zM30 442h3v1h-3zM38 442h3v1h-3zM350 442h2v1h-2zM391 442h2v1h-2zM7 443h4v1h-4zM31 443h4v1h-4zM37 443h3v1h-3zM350 443h2v1h-2zM390 443h3v1h-3zM6 444h3v1h-3zM32 444h7v1h-7zM350 444h3v1h-3zM390 444h2v1h-2zM2 445h6v1h-6zM34 445h4v1h-4zM351 445h2v1h-2zM389 445h3v1h-3zM2 446h5v1h-5zM35 446h2v1h-2zM351 446h2v1h-2zM387 446h4v1h-4zM351 447h2v1h-2zM386 447h4v1h-4zM351 448h3v1h-3zM385 448h3v1h-3zM352 449h2v1h-2zM384 449h3v1h-3zM352 450h2v1h-2zM383 450h3v1h-3zM352 451h2v1h-2zM383 451h2v1h-2zM352 452h2v1h-2zM382 452h3v1h-3zM352 453h3v1h-3zM382 453h2v1h-2zM353 454h2v1h-2zM381 454h3v1h-3zM353 455h2v1h-2zM381 455h2v1h-2zM353 456h2v1h-2zM380 456h3v1h-3zM353 457h2v1h-2zM380 457h2v1h-2zM353 458h3v1h-3zM379 458h3v1h-3zM354 459h2v1h-2zM378 459h3v1h-3zM354 460h2v1h-2zM378 460h2v1h-2zM354 461h2v1h-2zM377 461h3v1h-3zM354 462h2v1h-2zM377 462h2v1h-2zM354 463h2v1h-2zM376 463h3v1h-3zM354 464h3v1h-3zM375 464h3v1h-3zM355 465h2v1h-2zM375 465h2v1h-2zM355 466h2v1h-2zM374 466h3v1h-3zM355 467h2v1h-2zM374 467h2v1h-2zM355 468h2v1h-2zM373 468h3v1h-3zM355 469h2v1h-2zM373 469h2v1h-2zM355 470h3v1h-3zM372 470h3v1h-3zM356 471h2v1h-2zM372 471h2v1h-2zM356 472h2v1h-2zM371 472h3v1h-3zM356 473h3v1h-3zM371 473h2v1h-2zM357 474h2v1h-2zM370 474h3v1h-3zM357 475h3v1h-3zM370 475h2v1h-2zM358 476h2v1h-2zM369 476h3v1h-3zM358 477h3v1h-3zM369 477h2v1h-2zM359 478h2v1h-2zM369 478h2v1h-2zM359 479h3v1h-3zM368 479h3v1h-3zM360 480h4v1h-4zM368 480h2v1h-2zM361 481h5v1h-5zM368 481h2v1h-2zM363 482h7v1h-7zM365 483h4v1h-4zM367 484h2v1h-2z" fill="#00008b" stroke="none"/>
<path d="M230 379h6v1h-6zM159 380h8v1h-8zM225 380h5v1h-5zM236 380h4v1h-4zM157 381h2v1h-2zM167 381h2v1h-2zM222 381h3v1h-3zM240 381h3v1h-3zM155 382h2v1h-2zM169 382h2v1h-2zM220 382h2v1h-2zM243 382h1v1h-1zM153 383h2v1h-2zM171 383h2v1h-2zM217 383h3v1h-3zM244 383h1v1h-1zM152 384h1v1h-1zM173 384h2v1h-2zM215 384h2v1h-2zM245 384h1v1h-1zM151 385h1v1h-1zM175 385h1v1h-1zM213 385h2v1h-2zM246 385h1v1h-1zM150 386h1v1h-1zM176 386h1v1h-1zM211 386h2v1h-2zM247 386h1v1h-1zM148 387h2v1h-2zM177 387h1v1h-1zM209 387h2v1h-2zM248 387h1v1h-1zM147 388h1v1h-1zM178 388h2v1h-2zM207 388h2v1h-2zM249 388h1v1h-1zM146 389h1v1h-1zM180 389h1v1h-1zM205 389h2v1h-2zM250 389h1v1h-1zM145 390h1v1h-1zM181 390h1v1h-1zM203 390h2v1h-2zM251 390h1v1h-1zM123 391h6v1h-6zM139 391h6v1h-6zM182 391h1v1h-1zM202 391h1v1h-1zM252 391h1v1h-1zM120 392h3v1h-3zM129 392h10v1h-10zM183 392h2v1h-2zM200 392h2v1h-2zM253 392h1v1h-1zM118 393h2v1h-2zM185 393h2v1h-2zM199 393h1v1h-1zM254 393h1v1h-1zM116 394h2v1h-2zM187 394h2v1h-2zM197 394h2v1h-2zM255 394h2v1h-2zM114 395h2v1h-2zM189 395h8v1h-8zM257 395h1v1h-1zM113 396h1v1h-1zM258 396h2v1h-2zM112 397h1v1h-1zM260 397h2v1h-2zM110 398h2v1h-2zM262 398h2v1h-2zM109 399h1v1h-1zM264 399h2v1h-2zM661 399h3v1h-3zM108 400h1v1h-1zM266 400h3v1h-3zM659 400h2v1h-2zM664 400h3v1h-3zM107 401h1v1h-1zM269 401h5v1h-5zM536 401h6v1h-6zM657 401h2v1h-2zM667 401h2v1h-2zM690 401h6v1h-6zM106 402h1v1h-1zM274 402h5v1h-5zM532 402h4v1h-4zM542 402h4v1h-4zM656 402h1v1h-1zM669 402h2v1h-2zM685 402h5v1h-5zM696 402h4v1h-4zM105 403h1v1h-1zM279 403h2v1h-2zM530 403h2v1h-2zM546 403h4v1h-4zM655 403h1v1h-1zM671 403h2v1h-2zM682 403h3v1h-3zM700 403h4v1h-4zM104 404h1v1h-1zM281 404h2v1h-2zM528 404h2v1h-2zM550 404h2v1h-2zM653 404h2v1h-2zM673 404h9v1h-9zM704 404h2v1h-2zM103 405h1v1h-1zM283 405h2v1h-2zM526 405h2v1h-2zM552 405h3v1h-3zM652 405h1v1h-1zM706 405h3v1h-3zM102 406h1v1h-1zM285 406h1v1h-1zM525 406h1v1h-1zM555 406h3v1h-3zM625 406h7v1h-7zM651 406h1v1h-1zM709 406h2v1h-2zM101 407h1v1h-1zM286 407h2v1h-2zM524 407h1v1h-1zM558 407h4v1h-4zM621 407h4v1h-4zM632 407h5v1h-5zM649 407h2v1h-2zM711 407h1v1h-1zM100 408h1v1h-1zM288 408h1v1h-1zM523 408h1v1h-1zM562 408h4v1h-4zM619 408h2v1h-2zM637 408h2v1h-2zM646 408h3v1h-3zM712 408h2v1h-2zM99 409h1v1h-1zM289 409h1v1h-1zM522 409h1v1h-1zM566 409h2v1h-2zM617 409h2v1h-2zM639 409h2v1h-2zM644 409h2v1h-2zM714 409h1v1h-1zM98 410h1v1h-1zM290 410h2v1h-2zM521 410h1v1h-1zM568 410h3v1h-3zM615 410h2v1h-2zM641 410h3v1h-3zM715 410h1v1h-1zM98 411h1v1h-1zM292 411h1v1h-1zM520 411h1v1h-1zM571 411h2v1h-2zM612 411h3v1h-3zM716 411h2v1h-2zM97 412h1v1h-1zM293 412h2v1h-2zM519 412h1v1h-1zM573 412h2v1h-2zM610 412h2v1h-2zM718 412h1v1h-1zM96 413h1v1h-1zM295 413h2v1h-2zM518 413h1v1h-1zM575 413h2v1h-2zM607 413h3v1h-3zM719 413h1v1h-1zM95 414h1v1h-1zM297 414h2v1h-2zM517 414h1v1h-1zM577 414h2v1h-2zM605 414h2v1h-2zM720 414h1v1h-1zM94 415h1v1h-1zM299 415h2v1h-2zM516 415h1v1h-1zM579 415h2v1h-2zM603 415h2v1h-2zM721 415h2v1h-2zM92 416h2v1h-2zM301 416h1v1h-1zM514 416h2v1h-2zM581 416h2v1h-2zM601 416h2v1h-2zM723 416h1v1h-1zM90 417h2v1h-2zM302 417h2v1h-2zM417 417h3v1h-3zM513 417h1v1h-1zM583 417h2v1h-2zM599 417h2v1h-2zM724 417h3v1h-3zM740 417h2v1h-2zM89 418h1v1h-1zM304 418h1v1h-1zM414 418h3v1h-3zM420 418h4v1h-4zM512 418h1v1h-1zM585 418h5v1h-5zM595 418h4v1h-4zM727 418h6v1h-6zM738 418h2v1h-2zM87 419h2v1h-2zM305 419h1v1h-1zM412 419h2v1h-2zM424 419h4v1h-4zM511 419h1v1h-1zM590 419h5v1h-5zM733 419h5v1h-5zM84 420h3v1h-3zM306 420h2v1h-2zM411 420h1v1h-1zM428 420h4v1h-4zM510 420h1v1h-1zM79 421h5v1h-5zM308 421h1v1h-1zM411 421h1v1h-1zM432 421h6v1h-6zM508 421h2v1h-2zM76 422h3v1h-3zM309 422h1v1h-1zM410 422h1v1h-1zM438 422h8v1h-8zM506 422h2v1h-2zM74 423h2v1h-2zM310 423h2v1h-2zM409 423h1v1h-1zM446 423h14v1h-14zM505 423h1v1h-1zM72 424h2v1h-2zM312 424h1v1h-1zM342 424h3v1h-3zM409 424h1v1h-1zM460 424h4v1h-4zM503 424h2v1h-2zM71 425h1v1h-1zM313 425h1v1h-1zM340 425h2v1h-2zM345 425h4v1h-4zM408 425h1v1h-1zM464 425h3v1h-3zM502 425h1v1h-1zM3 426h1v1h-1zM69 426h2v1h-2zM314 426h2v1h-2zM339 426h1v1h-1zM349 426h1v1h-1zM407 426h1v1h-1zM467 426h1v1h-1zM500 426h2v1h-2zM4 427h1v1h-1zM68 427h1v1h-1zM316 427h1v1h-1zM337 427h2v1h-2zM350 427h1v1h-1zM407 427h1v1h-1zM468 427h1v1h-1zM499 427h1v1h-1zM4 428h1v1h-1zM66 428h2v1h-2zM317 428h2v1h-2zM334 428h3v1h-3zM351 428h1v1h-1zM406 428h1v1h-1zM469 428h1v1h-1zM498 428h1v1h-1zM5 429h1v1h-1zM64 429h2v1h-2zM319 429h5v1h-5zM330 429h4v1h-4zM352 429h1v1h-1zM406 429h1v1h-1zM470 429h1v1h-1zM496 429h2v1h-2zM5 430h1v1h-1zM63 430h1v1h-1zM324 430h6v1h-6zM353 430h1v1h-1zM405 430h1v1h-1zM471 430h1v1h-1zM495 430h1v1h-1zM6 431h1v1h-1zM61 431h2v1h-2zM353 431h1v1h-1zM405 431h1v1h-1zM472 431h1v1h-1zM494 431h1v1h-1zM7 432h1v1h-1zM60 432h1v1h-1zM354 432h1v1h-1zM404 432h1v1h-1zM473 432h1v1h-1zM493 432h1v1h-1zM7 433h1v1h-1zM59 433h1v1h-1zM354 433h1v1h-1zM404 433h1v1h-1zM474 433h1v1h-1zM492 433h1v1h-1zM8 434h1v1h-1zM58 434h1v1h-1zM354 434h1v1h-1zM403 434h1v1h-1zM475 434h2v1h-2zM490 434h2v1h-2zM9 435h1v1h-1zM57 435h1v1h-1zM355 435h1v1h-1zM403 435h1v1h-1zM477 435h1v1h-1zM489 435h1v1h-1zM9 436h1v1h-1zM56 436h1v1h-1zM355 436h1v1h-1zM402 436h1v1h-1zM478 436h2v1h-2zM488 436h1v1h-1zM10 437h1v1h-1zM28 437h4v1h-4zM55 437h1v1h-1zM356 437h1v1h-1zM402 437h1v1h-1zM480 437h8v1h-8zM11 438h2v1h-2zM24 438h4v1h-4zM32 438h2v1h-2zM54 438h1v1h-1zM356 438h1v1h-1zM401 438h1v1h-1zM13 439h1v1h-1zM21 439h3v1h-3zM34 439h3v1h-3zM52 439h2v1h-2zM356 439h1v1h-1zM401 439h1v1h-1zM14 440h2v1h-2zM18 440h3v1h-3zM37 440h3v1h-3zM50 440h2v1h-2zM357 440h1v1h-1zM400 440h1v1h-1zM16 441h2v1h-2zM40 441h4v1h-4zM48 441h2v1h-2zM357 441h1v1h-1zM399 441h1v1h-1zM44 442h4v1h-4zM357 442h1v1h-1zM399 442h1v1h-1zM358 443h1v1h-1zM398 443h1v1h-1zM358 444h1v1h-1zM398 444h1v1h-1zM358 445h1v1h-1zM397 445h1v1h-1zM359 446h1v1h-1zM397 446h1v1h-1zM359 447h1v1h-1zM396 447h1v1h-1zM359 448h1v1h-1zM396 448h1v1h-1zM360 449h1v1h-1zM395 449h1v1h-1zM360 450h1v1h-1zM395 450h1v1h-1zM360 451h1v1h-1zM394 451h1v1h-1zM361 452h1v1h-1zM393 452h1v1h-1zM361 453h1v1h-1zM393 453h1v1h-1zM361 454h1v1h-1zM392 454h1v1h-1zM362 455h1v1h-1zM391 455h1v1h-1zM362 456h1v1h-1zM391 456h1v1h-1zM362 457h1v1h-1zM390 457h1v1h-1zM363 458h1v1h-1zM389 458h1v1h-1zM363 459h1v1h-1zM389 459h1v1h-1zM363 460h1v1h-1zM388 460h1v1h-1zM364 461h1v1h-1zM387 461h1v1h-1zM364 462h1v1h-1zM387 462h1v1h-1zM365 463h1v1h-1zM386 463h1v1h-1zM365 464h1v1h-1zM386 464h1v1h-1zM365 465h1v1h-1zM385 465h1v1h-1zM366 466h1v1h-1zM385 466h1v1h-1zM366 467h1v1h-1zM384 467h1v1h-1zM366 468h1v1h-1zM384 468h1v1h-1zM367 469h1v1h-1zM383 469h1v1h-1zM367 470h1v1h-1zM383 470h1v1h-1zM368 471h1v1h-1zM382 471h1v1h-1zM368 472h1v1h-1zM381 472h1v1h-1zM369 473h1v1h-1zM380 473h1v1h-1zM369 474h1v1h-1zM379 474h1v1h-1zM370 475h1v1h-1zM378 475h1v1h-1zM371 476h1v1h-1zM376 476h2v1h-2zM371 477h1v1h-1zM374 477h2v1h-2zM372 478h2v1h-2z" fill="#c0c0c0" stroke="none"/>
<path d="M3 519.5H754M3 553.5H754" stroke="#c0c0c0" stroke-dasharray="3 3" stroke-dashoffset="5"/>
<path d="M4 554h1v9h-1zM5 550h1v4h-1zM6 547h1v3h-1zM7 546h1v1h-1zM8 546h1v1h-1zM9 546h1v1h-1zM10 546h1v1h-1zM11 546h1v1h-1zM12 546h1v1h-1zM13 546h1v1h-1zM14 547h1v1h-1zM15 546h1v2h-1zM16 542h1v4h-1zM17 539h1v3h-1zM18 540h1v1h-1zM19 541h1v2h-1zM20 543h1v2h-1zM21 545h1v2h-1zM22 547h1v2h-1zM23 549h1v1h-1zM24 550h1v2h-1zM25 552h1v1h-1zM26 551h1v1h-1zM27 552h1v1h-1zM28 552h1v1h-1zM29 553h1v1h-1zM30 553h1v1h-1zM31 554h1v1h-1zM32 555h1v1h-1zM33 556h1v1h-1zM34 555h1v1h-1zM35 553h1v2h-1zM36 550h1v3h-1zM37 548h1v2h-1zM38 547h1v1h-1zM39 546h1v1h-1zM40 545h1v1h-1zM41 544h1v1h-1zM42 545h1v1h-1zM43 545h1v1h-1zM44 546h1v1h-1zM45 547h1v1h-1zM46 548h1v2h-1zM47 550h1v1h-1zM48 550h1v1h-1zM49 549h1v2h-1zM50 545h1v4h-1zM51 543h1v2h-1zM52 544h1v1h-1zM53 544h1v2h-1zM54 541h1v3h-1zM55 539h1v2h-1zM56 540h1v1h-1zM57 540h1v1h-1zM58 541h1v1h-1zM59 542h1v1h-1zM60 543h1v2h-1zM61 545h1v1h-1zM62 544h1v1h-1zM63 543h1v1h-1zM64 543h1v1h-1zM65 543h1v1h-1zM66 542h1v1h-1zM67 540h1v2h-1zM68 539h1v1h-1zM69 538h1v2h-1zM70 540h1v2h-1zM71 542h1v2h-1zM72 544h1v1h-1zM73 543h1v2h-1zM74 539h1v4h-1zM75 537h1v2h-1zM76 538h1v2h-1zM77 540h1v2h-1zM78 542h1v2h-1zM79 544h1v2h-1zM80 542h1v2h-1zM81 540h1v2h-1zM82 539h1v1h-1zM83 539h1v1h-1zM84 537h1v2h-1zM85 535h1v2h-1zM86 533h1v2h-1zM87 532h1v1h-1zM88 530h1v2h-1zM89 529h1v1h-1zM90 530h1v2h-1zM91 532h1v2h-1zM92 532h1v1h-1zM93 531h1v1h-1zM94 529h1v2h-1zM95 528h1v1h-1zM96 529h1v2h-1zM97 531h1v2h-1zM98 531h1v1h-1zM99 531h1v1h-1zM100 529h1v2h-1zM101 527h1v2h-1zM102 528h1v1h-1zM103 528h1v1h-1zM104 527h1v1h-1zM105 526h1v1h-1zM106 525h1v1h-1zM107 526h1v1h-1zM108 526h1v1h-1zM109 527h1v1h-1zM110 526h1v1h-1zM111 525h1v1h-1zM112 526h1v1h-1zM113 527h1v1h-1zM114 526h1v1h-1zM115 526h1v1h-1zM116 527h1v1h-1zM117 527h1v1h-1zM118 526h1v1h-1zM119 526h1v1h-1zM120 527h1v1h-1zM121 528h1v1h-1zM122 527h1v1h-1zM123 527h1v1h-1zM124 526h1v1h-1zM125 527h1v2h-1zM126 529h1v2h-1zM127 531h1v2h-1zM128 527h1v4h-1zM129 525h1v2h-1zM130 527h1v4h-1zM131 531h1v2h-1zM132 533h1v1h-1zM133 532h1v3h-1zM134 526h1v6h-1zM135 523h1v3h-1zM136 524h1v2h-1zM137 526h1v2h-1zM138 526h1v1h-1zM139 525h1v1h-1zM140 523h1v2h-1zM141 521h1v2h-1zM142 520h1v1h-1zM143 520h1v1h-1zM144 519h1v1h-1zM145 518h1v1h-1zM146 518h1v1h-1zM147 517h1v1h-1zM148 518h1v2h-1zM149 520h1v2h-1zM150 522h1v3h-1zM151 525h1v2h-1zM152 526h1v1h-1zM153 526h1v1h-1zM154 525h1v1h-1zM155 525h1v1h-1zM156 523h1v2h-1zM157 522h1v1h-1zM158 520h1v2h-1zM159 519h1v2h-1zM160 521h1v4h-1zM161 525h1v3h-1zM162 527h1v1h-1zM163 527h1v1h-1zM164 528h1v2h-1zM165 530h1v2h-1zM166 531h1v1h-1zM167 531h1v1h-1zM168 532h1v1h-1zM169 533h1v1h-1zM170 531h1v2h-1zM171 529h1v2h-1zM172 529h1v1h-1zM173 529h1v1h-1zM174 530h1v1h-1zM175 530h1v2h-1zM176 532h1v4h-1zM177 536h1v2h-1zM178 537h1v1h-1zM179 537h1v1h-1zM180 537h1v1h-1zM181 536h1v2h-1zM182 534h1v2h-1zM183 532h1v2h-1zM184 531h1v1h-1zM185 529h1v2h-1zM186 527h1v2h-1zM187 525h1v2h-1zM188 524h1v1h-1zM189 524h1v1h-1zM190 523h1v1h-1zM191 524h1v1h-1zM192 524h1v1h-1zM193 524h1v2h-1zM194 521h1v3h-1zM195 519h1v2h-1zM196 520h1v2h-1zM197 522h1v3h-1zM198 525h1v2h-1zM199 527h1v2h-1zM200 527h1v1h-1zM201 525h1v2h-1zM202 524h1v1h-1zM203 525h1v1h-1zM204 525h1v1h-1zM205 526h1v1h-1zM206 524h1v2h-1zM207 523h1v1h-1zM208 523h1v1h-1zM209 522h1v1h-1zM210 522h1v1h-1zM211 520h1v2h-1zM212 518h1v2h-1zM213 517h1v1h-1zM214 518h1v2h-1zM215 520h1v3h-1zM216 523h1v3h-1zM217 526h1v2h-1zM218 526h1v1h-1zM219 524h1v2h-1zM220 523h1v1h-1zM221 523h1v1h-1zM222 522h1v1h-1zM223 522h1v1h-1zM224 520h1v2h-1zM225 519h1v1h-1zM226 520h1v1h-1zM227 520h1v2h-1zM228 522h1v2h-1zM229 524h1v2h-1zM230 525h1v1h-1zM231 525h1v1h-1zM232 526h1v2h-1zM233 528h1v1h-1zM234 526h1v2h-1zM235 524h1v2h-1zM236 526h1v4h-1zM237 530h1v2h-1zM238 532h1v2h-1zM239 534h1v2h-1zM240 534h1v1h-1zM241 534h1v1h-1zM242 533h1v1h-1zM243 533h1v1h-1zM244 534h1v1h-1zM245 535h1v1h-1zM246 536h1v2h-1zM247 538h1v2h-1zM248 538h1v1h-1zM249 537h1v1h-1zM250 536h1v1h-1zM251 535h1v1h-1zM252 533h1v2h-1zM253 532h1v1h-1zM254 530h1v2h-1zM255 529h1v1h-1zM256 530h1v1h-1zM257 530h1v2h-1zM258 532h1v3h-1zM259 535h1v2h-1zM260 537h1v2h-1zM261 539h1v2h-1zM262 538h1v2h-1zM263 535h1v3h-1zM264 533h1v2h-1zM265 531h1v2h-1zM266 531h1v1h-1zM267 530h1v1h-1zM268 530h1v1h-1zM269 529h1v1h-1zM270 528h1v2h-1zM271 530h1v4h-1zM272 534h1v3h-1zM273 537h1v2h-1zM274 539h1v3h-1zM275 542h1v2h-1zM276 542h1v1h-1zM277 541h1v1h-1zM278 540h1v1h-1zM279 539h1v1h-1zM280 538h1v1h-1zM281 537h1v2h-1zM282 539h1v4h-1zM283 543h1v2h-1zM284 544h1v1h-1zM285 544h1v1h-1zM286 544h1v1h-1zM287 545h1v1h-1zM288 546h1v2h-1zM289 547h1v2h-1zM290 545h1v2h-1zM291 543h1v2h-1zM292 541h1v2h-1zM293 539h1v2h-1zM294 537h1v2h-1zM295 536h1v2h-1zM296 538h1v2h-1zM297 540h1v3h-1zM298 543h1v2h-1zM299 545h1v1h-1zM300 546h1v1h-1zM301 546h1v1h-1zM302 547h1v2h-1zM303 549h1v2h-1zM304 551h1v1h-1zM305 552h1v1h-1zM306 551h1v1h-1zM307 551h1v1h-1zM308 550h1v1h-1zM309 549h1v1h-1zM310 550h1v1h-1zM311 550h1v1h-1zM312 549h1v1h-1zM313 548h1v1h-1zM314 546h1v2h-1zM315 545h1v1h-1zM316 546h1v2h-1zM317 548h1v1h-1zM318 549h1v2h-1zM319 551h1v1h-1zM320 550h1v1h-1zM321 548h1v2h-1zM322 546h1v2h-1zM323 544h1v2h-1zM324 543h1v1h-1zM325 542h1v1h-1zM326 542h1v1h-1zM327 543h1v1h-1zM328 543h1v1h-1zM329 543h1v1h-1zM330 543h1v1h-1zM331 541h1v2h-1zM332 542h1v2h-1zM333 544h1v1h-1zM334 544h1v1h-1zM335 543h1v2h-1zM336 541h1v2h-1zM337 539h1v2h-1zM338 540h1v1h-1zM339 540h1v1h-1zM340 541h1v1h-1zM341 541h1v6h-1zM342 547h1v8h-1zM343 555h1v4h-1zM344 557h1v1h-1zM345 556h1v1h-1zM346 556h1v1h-1zM347 556h1v2h-1zM348 558h1v2h-1zM349 559h1v3h-1zM350 554h1v5h-1zM351 551h1v3h-1zM352 554h1v5h-1zM353 559h1v3h-1zM354 562h1v1h-1zM355 562h1v1h-1zM356 563h1v1h-1zM357 562h1v2h-1zM358 558h1v4h-1zM359 556h1v2h-1zM360 557h1v1h-1zM361 558h1v1h-1zM362 556h1v2h-1zM363 554h1v2h-1zM364 555h1v1h-1zM365 555h1v1h-1zM366 556h1v1h-1zM367 556h1v2h-1zM368 552h1v4h-1zM369 549h1v3h-1zM370 545h1v4h-1zM371 543h1v2h-1zM372 544h1v1h-1zM373 545h1v1h-1zM374 544h1v1h-1zM375 544h1v1h-1zM376 545h1v2h-1zM377 547h1v1h-1zM378 546h1v1h-1zM379 546h1v1h-1zM380 545h1v1h-1zM381 543h1v2h-1zM382 542h1v1h-1zM383 542h1v1h-1zM384 542h1v1h-1zM385 543h1v1h-1zM386 544h1v1h-1zM387 545h1v1h-1zM388 545h1v1h-1zM389 544h1v1h-1zM390 544h1v1h-1zM391 542h1v2h-1zM392 540h1v2h-1zM393 538h1v2h-1zM394 537h1v1h-1zM395 536h1v2h-1zM396 532h1v4h-1zM397 530h1v2h-1zM398 531h1v2h-1zM399 533h1v2h-1zM400 533h1v1h-1zM401 532h1v1h-1zM402 533h1v2h-1zM403 535h1v2h-1zM404 535h1v1h-1zM405 535h1v1h-1zM406 536h1v1h-1zM407 536h1v1h-1zM408 537h1v2h-1zM409 539h1v2h-1zM410 541h1v1h-1zM411 542h1v1h-1zM412 541h1v1h-1zM413 540h1v1h-1zM414 541h1v2h-1zM415 543h1v2h-1zM416 544h1v1h-1zM417 543h1v2h-1zM418 541h1v2h-1zM419 539h1v2h-1zM420 539h1v1h-1zM421 539h1v1h-1zM422 540h1v1h-1zM423 541h1v1h-1zM424 542h1v1h-1zM425 542h1v1h-1zM426 543h1v2h-1zM427 545h1v2h-1zM428 542h1v3h-1zM429 540h1v2h-1zM430 541h1v2h-1zM431 543h1v1h-1zM432 542h1v1h-1zM433 541h1v1h-1zM434 540h1v1h-1zM435 540h1v1h-1zM436 540h1v1h-1zM437 540h1v1h-1zM438 539h1v1h-1zM439 539h1v1h-1zM440 540h1v1h-1zM441 541h1v2h-1zM442 543h1v4h-1zM443 547h1v2h-1zM444 547h1v1h-1zM445 547h1v1h-1zM446 545h1v2h-1zM447 544h1v1h-1zM448 543h1v1h-1zM449 542h1v1h-1zM450 541h1v1h-1zM451 540h1v1h-1zM452 541h1v1h-1zM453 541h1v1h-1zM454 540h1v1h-1zM455 540h1v1h-1zM456 541h1v2h-1zM457 543h1v2h-1zM458 545h1v2h-1zM459 547h1v2h-1zM460 549h1v1h-1zM461 549h1v1h-1zM462 550h1v1h-1zM463 551h1v1h-1zM464 552h1v1h-1zM465 553h1v1h-1zM466 554h1v1h-1zM467 555h1v1h-1zM468 556h1v1h-1zM469 556h1v1h-1zM470 555h1v1h-1zM471 554h1v1h-1zM472 552h1v2h-1zM473 551h1v1h-1zM474 551h1v1h-1zM475 550h1v2h-1zM476 548h1v2h-1zM477 546h1v2h-1zM478 547h1v1h-1zM479 548h1v1h-1zM480 549h1v1h-1zM481 549h1v1h-1zM482 547h1v2h-1zM483 546h1v1h-1zM484 546h1v1h-1zM485 546h1v1h-1zM486 544h1v2h-1zM487 543h1v1h-1zM488 541h1v2h-1zM489 539h1v2h-1zM490 540h1v1h-1zM491 540h1v1h-1zM492 538h1v2h-1zM493 536h1v2h-1zM494 537h1v1h-1zM495 538h1v2h-1zM496 540h1v2h-1zM497 542h1v2h-1zM498 544h1v2h-1zM499 546h1v2h-1zM500 547h1v1h-1zM501 547h1v1h-1zM502 545h1v2h-1zM503 543h1v2h-1zM504 543h1v1h-1zM505 542h1v2h-1zM506 538h1v4h-1zM507 534h1v4h-1zM508 532h1v2h-1zM509 529h1v3h-1zM510 526h1v3h-1zM511 524h1v2h-1zM512 525h1v2h-1zM513 527h1v3h-1zM514 530h1v4h-1zM515 534h1v3h-1zM516 534h1v2h-1zM517 532h1v2h-1zM518 532h1v1h-1zM519 533h1v1h-1zM520 533h1v1h-1zM521 533h1v1h-1zM522 534h1v1h-1zM523 534h1v1h-1zM524 533h1v1h-1zM525 532h1v1h-1zM526 530h1v2h-1zM527 529h1v2h-1zM528 531h1v2h-1zM529 533h1v2h-1zM530 535h1v1h-1zM531 536h1v1h-1zM532 535h1v1h-1zM533 534h1v1h-1zM534 535h1v1h-1zM535 535h1v1h-1zM536 534h1v1h-1zM537 534h1v1h-1zM538 533h1v1h-1zM539 533h1v2h-1zM540 535h1v2h-1zM541 537h1v2h-1zM542 535h1v2h-1zM543 533h1v2h-1zM544 535h1v4h-1zM545 539h1v2h-1zM546 537h1v2h-1zM547 535h1v2h-1zM548 536h1v2h-1zM549 538h1v1h-1zM550 539h1v1h-1zM551 539h1v1h-1zM552 540h1v1h-1zM553 540h1v1h-1zM554 541h1v1h-1zM555 541h1v1h-1zM556 541h1v1h-1zM557 540h1v2h-1zM558 538h1v2h-1zM559 536h1v2h-1zM560 536h1v1h-1zM561 535h1v1h-1zM562 535h1v1h-1zM563 535h1v2h-1zM564 537h1v4h-1zM565 541h1v3h-1zM566 544h1v2h-1zM567 546h1v2h-1zM568 545h1v2h-1zM569 543h1v2h-1zM570 541h1v2h-1zM571 540h1v1h-1zM572 541h1v2h-1zM573 543h1v1h-1zM574 542h1v1h-1zM575 542h1v1h-1zM576 543h1v1h-1zM577 544h1v2h-1zM578 546h1v4h-1zM579 550h1v2h-1zM580 548h1v2h-1zM581 545h1v3h-1zM582 543h1v2h-1zM583 541h1v2h-1zM584 540h1v1h-1zM585 539h1v1h-1zM586 540h1v2h-1zM587 542h1v1h-1zM588 543h1v1h-1zM589 542h1v2h-1zM590 540h1v2h-1zM591 538h1v2h-1zM592 536h1v2h-1zM593 534h1v2h-1zM594 535h1v1h-1zM595 536h1v1h-1zM596 536h1v1h-1zM597 536h1v1h-1zM598 536h1v1h-1zM599 536h1v1h-1zM600 536h1v1h-1zM601 536h1v1h-1zM602 536h1v1h-1zM603 536h1v1h-1zM604 537h1v2h-1zM605 539h1v1h-1zM606 539h1v1h-1zM607 539h1v1h-1zM608 537h1v2h-1zM609 535h1v2h-1zM610 531h1v4h-1zM611 528h1v3h-1zM612 527h1v1h-1zM613 526h1v3h-1zM614 529h1v4h-1zM615 533h1v3h-1zM616 532h1v2h-1zM617 530h1v2h-1zM618 531h1v2h-1zM619 533h1v2h-1zM620 535h1v2h-1zM621 537h1v2h-1zM622 539h1v2h-1zM623 541h1v2h-1zM624 541h1v1h-1zM625 541h1v1h-1zM626 541h1v1h-1zM627 541h1v1h-1zM628 539h1v2h-1zM629 537h1v2h-1zM630 538h1v1h-1zM631 538h1v1h-1zM632 539h1v1h-1zM633 539h1v1h-1zM634 538h1v1h-1zM635 538h1v1h-1zM636 538h1v1h-1zM637 538h1v1h-1zM638 539h1v2h-1zM639 540h1v2h-1zM640 536h1v4h-1zM641 534h1v2h-1zM642 532h1v2h-1zM643 530h1v2h-1zM644 528h1v2h-1zM645 526h1v2h-1zM646 525h1v1h-1zM647 524h1v1h-1zM648 523h1v1h-1zM649 522h1v1h-1zM650 522h1v1h-1zM651 523h1v2h-1zM652 525h1v2h-1zM653 527h1v3h-1zM654 530h1v1h-1zM655 530h1v1h-1zM656 530h1v1h-1zM657 530h1v2h-1zM658 532h1v3h-1zM659 535h1v3h-1zM660 538h1v2h-1zM661 540h1v2h-1zM662 542h1v2h-1zM663 544h1v2h-1zM664 544h1v1h-1zM665 543h1v1h-1zM666 542h1v1h-1zM667 540h1v2h-1zM668 538h1v2h-1zM669 536h1v2h-1zM670 533h1v3h-1zM671 530h1v3h-1zM672 529h1v1h-1zM673 528h1v1h-1zM674 527h1v1h-1zM675 527h1v1h-1zM676 527h1v1h-1zM677 527h1v1h-1zM678 527h1v1h-1zM679 528h1v2h-1zM680 530h1v2h-1zM681 532h1v1h-1zM682 532h1v1h-1zM683 532h1v1h-1zM684 533h1v1h-1zM685 534h1v1h-1zM686 533h1v1h-1zM687 533h1v1h-1zM688 534h1v1h-1zM689 535h1v2h-1zM690 537h1v2h-1zM691 539h1v2h-1zM692 537h1v2h-1zM693 535h1v2h-1zM694 533h1v2h-1zM695 532h1v1h-1zM696 531h1v1h-1zM697 531h1v1h-1zM698 531h1v1h-1zM699 531h1v2h-1zM700 533h1v3h-1zM701 536h1v4h-1zM702 540h1v4h-1zM703 544h1v2h-1zM704 544h1v1h-1zM705 544h1v1h-1zM706 544h1v1h-1zM707 544h1v1h-1zM708 544h1v1h-1zM709 545h1v1h-1zM710 545h1v1h-1zM711 544h1v1h-1zM712 545h1v1h-1zM713 546h1v1h-1zM714 544h1v2h-1zM715 543h1v2h-1zM716 545h1v2h-1zM717 547h1v2h-1zM718 549h1v2h-1zM719 551h1v2h-1zM720 551h1v1h-1zM721 550h1v1h-1zM722 549h1v1h-1zM723 548h1v1h-1zM724 548h1v1h-1zM725 547h1v2h-1zM726 545h1v2h-1zM727 543h1v2h-1zM728 542h1v1h-1zM729 542h1v1h-1zM730 542h1v1h-1zM731 542h1v1h-1zM732 543h1v1h-1zM733 542h1v2h-1zM734 538h1v4h-1zM735 535h1v3h-1zM736 533h1v2h-1zM737 532h1v1h-1zM738 531h1v1h-1zM739 531h1v1h-1zM740 530h1v1h-1zM741 530h1v1h-1z" fill="#1e90ff" stroke="none"/>
<path d="M2.5 2V369M2.5 370V491M2.5 492V580M754.5 2V369M754.5 370V491M754.5 492V580M2 2.5H755M2 368.5H755M2 370.5H755M2 490.5H755M2 492.5H755M2 579.5H755" stroke="#000"/>
<path d="M755 35.5h2M755 68.5h2M755 101.5h2M755 134.5h2M755 167.5h2M755 200.5h2M755 266.5h2M755 299.5h2M755 332.5h2M755 365.5h2M755 372.5h1M755 407.5h1M755 489.5h1M755 494.5h1M755 579.5h1M3.5 580v3M67.5 580v3M131.5 580v3M195.5 580v3M259.5 580v3M323.5 580v3M387.5 580v3M451.5 580v3M515.5 580v3M579.5 580v3M643.5 580v3M707.5 580v3" stroke="#000"/>
<path d="M754 519h1v1h-1zM754 553h1v1h-1z" fill="#fff" stroke="none"/>
<rect x="756" y="229" width="41" height="11" fill="#2f4f4f"/><rect x="756" y="312" width="41" height="11" fill="#000"/>
<path d="M6 9h7l-3.5 4z" fill="#000"/>
</g>
<text x="18.3" y="14.0" textLength="64.0" lengthAdjust="spacingAndGlyphs" stroke="#000">USDCHF,Daily</text>
<text x="89.5" y="14.0" textLength="32.9" lengthAdjust="spacingAndGlyphs" stroke="#000">0.79844</text>
<text x="125.2" y="14.0" textLength="32.9" lengthAdjust="spacingAndGlyphs" stroke="#000">0.80025</text>
<text x="160.9" y="14.0" textLength="32.9" lengthAdjust="spacingAndGlyphs" stroke="#000">0.79816</text>
<text x="196.7" y="14.0" textLength="32.9" lengthAdjust="spacingAndGlyphs" stroke="#000">0.79999</text>
<text x="760.0" y="39.0" textLength="33.2" lengthAdjust="spacingAndGlyphs" stroke="#000">0.91420</text>
<text x="760.0" y="72.0" textLength="33.2" lengthAdjust="spacingAndGlyphs" stroke="#000">0.90060</text>
<text x="760.0" y="105.0" textLength="33.2" lengthAdjust="spacingAndGlyphs" stroke="#000">0.88740</text>
<text x="760.0" y="138.0" textLength="33.2" lengthAdjust="spacingAndGlyphs" stroke="#000">0.87420</text>
<text x="760.0" y="171.0" textLength="33.2" lengthAdjust="spacingAndGlyphs" stroke="#000">0.86060</text>
<text x="760.0" y="204.0" textLength="33.2" lengthAdjust="spacingAndGlyphs" stroke="#000">0.84740</text>
<text x="760.0" y="270.0" textLength="33.2" lengthAdjust="spacingAndGlyphs" stroke="#000">0.82060</text>
<text x="760.0" y="303.0" textLength="33.2" lengthAdjust="spacingAndGlyphs" stroke="#000">0.80700</text>
<text x="760.0" y="336.0" textLength="33.2" lengthAdjust="spacingAndGlyphs" stroke="#000">0.79380</text>
<text x="760.0" y="369.0" textLength="33.2" lengthAdjust="spacingAndGlyphs" stroke="#000">0.78060</text>
<text x="760.0" y="239.0" textLength="33.2" lengthAdjust="spacingAndGlyphs" fill="#fff" stroke="#fff">0.83320</text>
<text x="760.0" y="322.0" textLength="33.2" lengthAdjust="spacingAndGlyphs" fill="#fff" stroke="#fff">0.79999</text>
<text x="758.8" y="381.0" textLength="37.0" lengthAdjust="spacingAndGlyphs" stroke="#000">0.008923</text>
<text x="757.4" y="411.0" textLength="18.4" lengthAdjust="spacingAndGlyphs" stroke="#000">0.00</text>
<text x="758.4" y="411.0" textLength="5.3" lengthAdjust="spacingAndGlyphs" stroke="#000">0</text>
<text x="757.8" y="488.0" textLength="40.2" lengthAdjust="spacingAndGlyphs" stroke="#000">-0.020759</text>
<text x="758.0" y="503.0" textLength="14.5" lengthAdjust="spacingAndGlyphs" stroke="#000">100</text>
<text x="757.5" y="523.0" textLength="9.0" lengthAdjust="spacingAndGlyphs" stroke="#000">70</text>
<text x="757.5" y="557.0" textLength="9.0" lengthAdjust="spacingAndGlyphs" stroke="#000">30</text>
<text x="758.0" y="576.0" textLength="5.0" lengthAdjust="spacingAndGlyphs" stroke="#000">0</text>
<text x="7.6" y="383.0" textLength="66.2" lengthAdjust="spacingAndGlyphs" stroke="#000">MACD(12,26,9)</text>
<text x="76.4" y="383.0" textLength="40.4" lengthAdjust="spacingAndGlyphs" stroke="#000">-0.000668</text>
<text x="120.8" y="383.0" textLength="39.3" lengthAdjust="spacingAndGlyphs" stroke="#000">-0.002377</text>
<text x="7.7" y="505.0" textLength="30.2" lengthAdjust="spacingAndGlyphs" stroke="#000">RSI(14)</text>
<text x="41.9" y="505.0" textLength="32.9" lengthAdjust="spacingAndGlyphs" stroke="#000">58.4423</text>
<text x="2.7" y="592.0" textLength="47.5" lengthAdjust="spacingAndGlyphs" stroke="#000">6 Aug 2024</text>
<text x="66.7" y="592.0" textLength="51.0" lengthAdjust="spacingAndGlyphs" stroke="#000">19 Sep 2024</text>
<text x="130.7" y="592.0" textLength="47.3" lengthAdjust="spacingAndGlyphs" stroke="#000">4 Nov 2024</text>
<text x="194.7" y="592.0" textLength="51.0" lengthAdjust="spacingAndGlyphs" stroke="#000">18 Dec 2024</text>
<text x="258.7" y="592.0" textLength="45.6" lengthAdjust="spacingAndGlyphs" stroke="#000">4 Feb 2025</text>
<text x="322.7" y="592.0" textLength="51.3" lengthAdjust="spacingAndGlyphs" stroke="#000">20 Mar 2025</text>
<text x="386.7" y="592.0" textLength="49.0" lengthAdjust="spacingAndGlyphs" stroke="#000">5 May 2025</text>
<text x="450.7" y="592.0" textLength="48.3" lengthAdjust="spacingAndGlyphs" stroke="#000">18 Jun 2025</text>
<text x="514.7" y="592.0" textLength="47.9" lengthAdjust="spacingAndGlyphs" stroke="#000">1 Aug 2025</text>
<text x="578.7" y="592.0" textLength="51.6" lengthAdjust="spacingAndGlyphs" stroke="#000">16 Sep 2025</text>
<text x="642.7" y="592.0" textLength="51.3" lengthAdjust="spacingAndGlyphs" stroke="#000">30 Oct 2025</text>
<text x="706.7" y="592.0" textLength="51.7" lengthAdjust="spacingAndGlyphs" stroke="#000">15 Dec 2025</text>
<text x="524" y="134.6" textLength="125" lengthAdjust="spacingAndGlyphs" style="font-family:'Liberation Sans',sans-serif;font-size:23.5px" fill="#c1c1c1">ActionForex</text>
</svg>
</body></html>
